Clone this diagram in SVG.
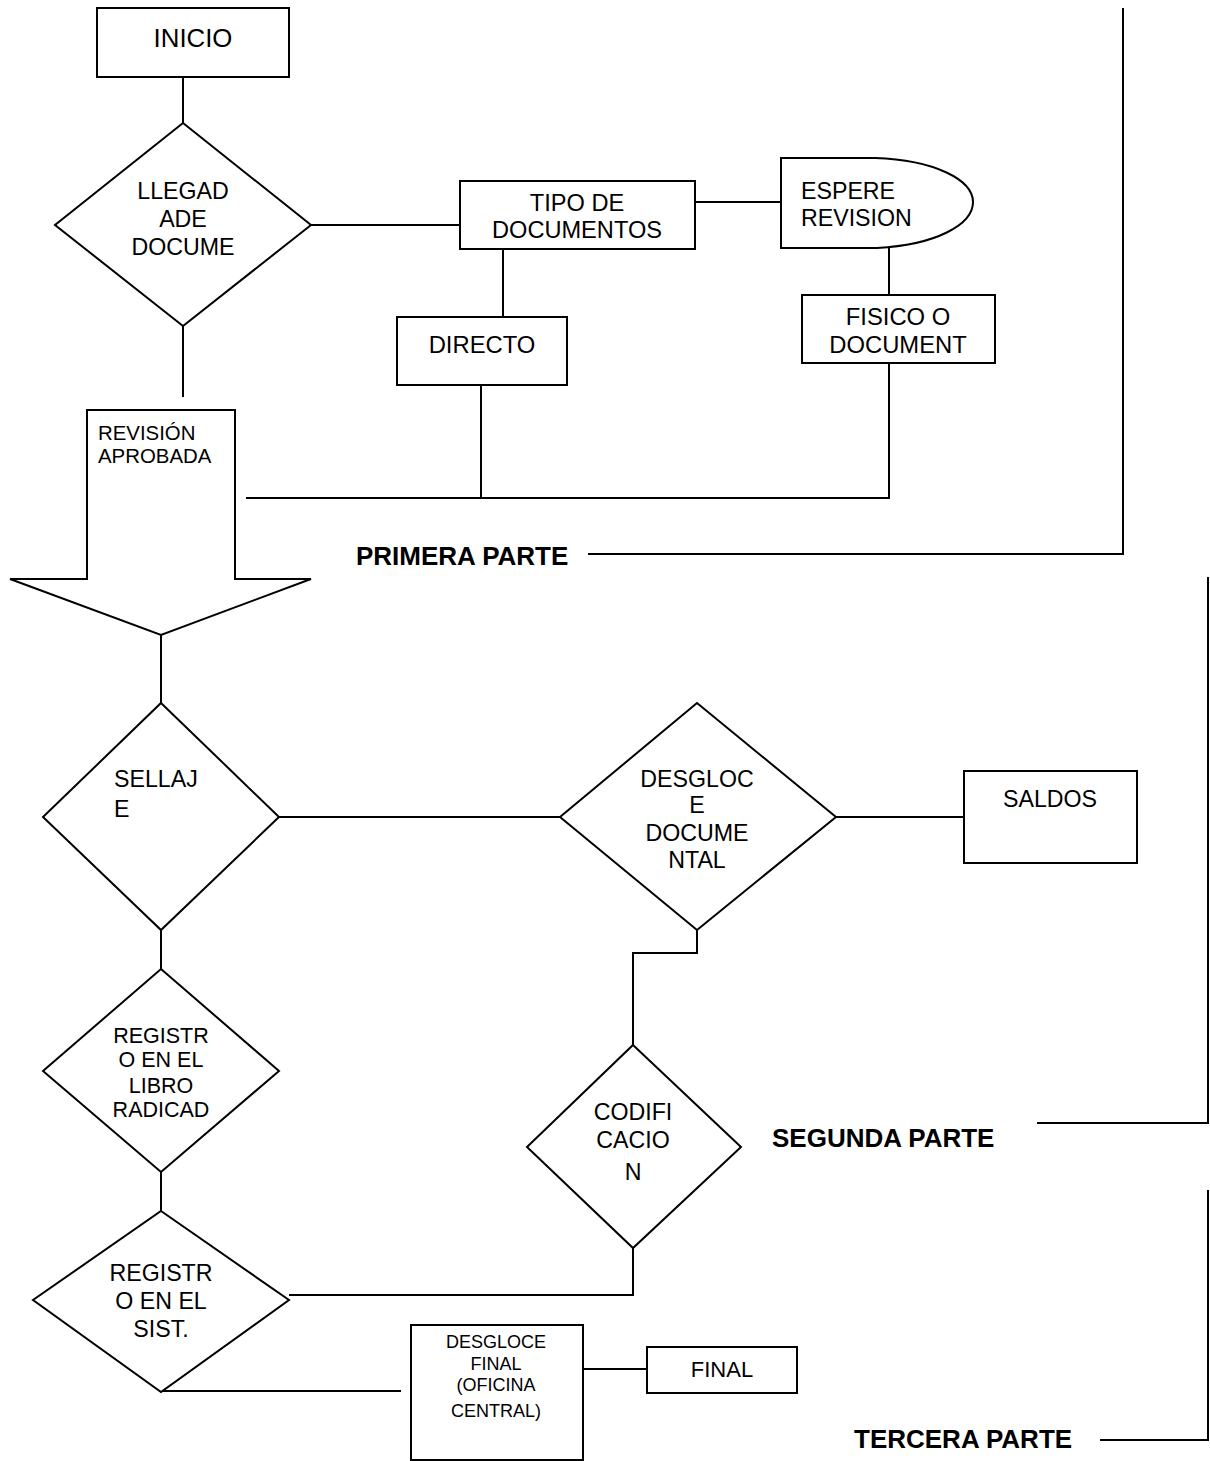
<svg xmlns="http://www.w3.org/2000/svg" width="1210" height="1461" viewBox="0 0 1210 1461">
  <style>
    .shape { fill: #ffffff; stroke: #000000; stroke-width: 2; }
    .wire { fill: none; stroke: #000000; stroke-width: 2; }
    .t { font-family: "Liberation Sans", Arial, sans-serif; font-size: 23.2px; fill: #000000; }
    .c { text-anchor: middle; }
    .part { font-family: "Liberation Sans", Arial, sans-serif; font-size: 26px; font-weight: bold; fill: #000000; }
  </style>
  <rect width="1210" height="1461" fill="#ffffff"/>

  <!-- connectors -->
  <g id="connectors">
    <line class="wire" x1="183" y1="77" x2="183" y2="123"/>
    <line class="wire" x1="183" y1="326" x2="183" y2="397"/>
    <line class="wire" x1="311" y1="225" x2="460" y2="225"/>
    <line class="wire" x1="695" y1="202" x2="781" y2="202"/>
    <line class="wire" x1="503" y1="249" x2="503" y2="317"/>
    <line class="wire" x1="889" y1="248" x2="889" y2="295"/>
    <line class="wire" x1="889" y1="363" x2="889" y2="498"/>
    <line class="wire" x1="481" y1="385" x2="481" y2="498"/>
    <line class="wire" x1="246" y1="498" x2="890" y2="498"/>
    <line class="wire" x1="161" y1="635" x2="161" y2="703"/>
    <line class="wire" x1="161" y1="920" x2="161" y2="969"/>
    <line class="wire" x1="279" y1="817" x2="560" y2="817"/>
    <line class="wire" x1="836" y1="817" x2="964" y2="817"/>
    <polyline class="wire" points="697,930 697,953 633,953 633,1045"/>
    <line class="wire" x1="161" y1="1164" x2="161" y2="1211"/>
    <polyline class="wire" points="633,1248 633,1295 289,1295"/>
    <line class="wire" x1="163" y1="1391" x2="401" y2="1391"/>
    <line class="wire" x1="583" y1="1369" x2="647" y2="1369"/>
    <!-- section brackets -->
    <polyline class="wire" points="588,554 1123,554 1123,8"/>
    <polyline class="wire" points="1037,1123 1208,1123 1208,577"/>
    <polyline class="wire" points="1100,1440 1208,1440 1208,1190"/>
  </g>

  <g id="inicio">
    <rect class="shape" x="97" y="8" width="192" height="69"/>
    <text class="t c" x="193" y="47" style="font-size:25.8px">INICIO</text>
  </g>

  <g id="llegada">
    <polygon class="shape" points="183,123 311,225 183,326 55,225"/>
    <text class="t c" x="183" y="199">LLEGAD</text>
    <text class="t c" x="183" y="227">ADE</text>
    <text class="t c" x="183" y="255">DOCUME</text>
  </g>

  <g id="tipo">
    <rect class="shape" x="460" y="181" width="235" height="68"/>
    <text class="t c" x="577" y="211" style="font-size:23.6px">TIPO DE</text>
    <text class="t c" x="577" y="238" style="font-size:23.6px">DOCUMENTOS</text>
  </g>

  <g id="espere">
    <path class="shape" d="M781,158 L875,158 C935,160 973,180 973,202 C973,225 935,245 877,248 L781,248 Z"/>
    <text class="t" x="801" y="199">ESPERE</text>
    <text class="t" x="801" y="226">REVISION</text>
  </g>

  <g id="directo">
    <rect class="shape" x="397" y="317" width="170" height="68"/>
    <text class="t c" x="482" y="353" style="font-size:23.8px">DIRECTO</text>
  </g>

  <g id="fisico">
    <rect class="shape" x="802" y="295" width="193" height="68"/>
    <text class="t c" x="898" y="325" style="font-size:23.8px">FISICO O</text>
    <text class="t c" x="898" y="353" style="font-size:23.8px">DOCUMENT</text>
  </g>

  <g id="revision-aprobada">
    <polygon class="shape" points="87,410 235,410 235,579 311,579 161,635 10,579 87,579"/>
    <text class="t" x="98" y="440" style="font-size:20.4px">REVISIÓN</text>
    <text class="t" x="98" y="463" style="font-size:20.4px">APROBADA</text>
  </g>

  <g id="sellaje">
    <polygon class="shape" points="161,703 279,817 161,930 43,817"/>
    <text class="t" x="114" y="787">SELLAJ</text>
    <text class="t" x="114" y="817">E</text>
  </g>

  <g id="desgloce-documental">
    <polygon class="shape" points="697,703 836,817 697,930 560,817"/>
    <text class="t c" x="697" y="787">DESGLOC</text>
    <text class="t c" x="697" y="813">E</text>
    <text class="t c" x="697" y="841">DOCUME</text>
    <text class="t c" x="697" y="868">NTAL</text>
  </g>

  <g id="saldos">
    <rect class="shape" x="964" y="771" width="173" height="92"/>
    <text class="t c" x="1050" y="807">SALDOS</text>
  </g>

  <g id="registro-libro">
    <polygon class="shape" points="161,969 279,1071 161,1172 43,1071"/>
    <text class="t c" x="161" y="1043" style="font-size:21.5px">REGISTR</text>
    <text class="t c" x="161" y="1067" style="font-size:21.5px">O EN EL</text>
    <text class="t c" x="161" y="1093" style="font-size:21.5px">LIBRO</text>
    <text class="t c" x="161" y="1117" style="font-size:21.5px">RADICAD</text>
  </g>

  <g id="codificacion">
    <polygon class="shape" points="633,1045 741,1147 633,1248 527,1147"/>
    <text class="t c" x="633" y="1120">CODIFI</text>
    <text class="t c" x="633" y="1148">CACIO</text>
    <text class="t c" x="633" y="1180">N</text>
  </g>

  <g id="registro-sistema">
    <polygon class="shape" points="161,1211 289,1300 161,1392 33,1300"/>
    <text class="t c" x="161" y="1281">REGISTR</text>
    <text class="t c" x="161" y="1309">O EN EL</text>
    <text class="t c" x="161" y="1337">SIST.</text>
  </g>

  <g id="desgloce-final">
    <rect class="shape" x="411" y="1325" width="172" height="135"/>
    <text class="t c" x="496" y="1348" style="font-size:18px">DESGLOCE</text>
    <text class="t c" x="496" y="1370" style="font-size:18px">FINAL</text>
    <text class="t c" x="496" y="1391" style="font-size:18px">(OFICINA</text>
    <text class="t c" x="496" y="1417" style="font-size:18px">CENTRAL)</text>
  </g>

  <g id="final">
    <rect class="shape" x="647" y="1347" width="150" height="46"/>
    <text class="t c" x="722" y="1377" style="font-size:22px">FINAL</text>
  </g>

  <g id="section-labels">
    <text class="part" x="356" y="565">PRIMERA PARTE</text>
    <text class="part" x="772" y="1147">SEGUNDA PARTE</text>
    <text class="part" x="854" y="1448">TERCERA PARTE</text>
  </g>
</svg>
